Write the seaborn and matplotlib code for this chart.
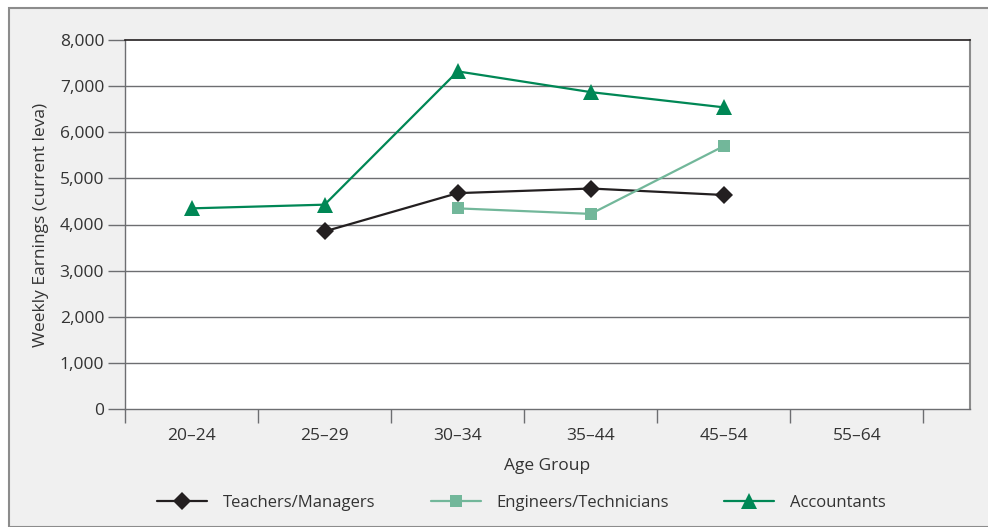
import matplotlib
matplotlib.use("Agg")
import matplotlib.pyplot as plt
import seaborn as sns
import pandas as pd
import numpy as np
from matplotlib.patches import Rectangle

categories = ["20–24", "25–29", "30–34", "35–44", "45–54", "55–64"]
teachers = [np.nan, 3850, 4680, 4780, 4640, np.nan]
engineers = [np.nan, np.nan, 4350, 4230, 5700, np.nan]
accountants = [4350, 4430, 7320, 6870, 6540, np.nan]
series_names = ["Teachers/Managers", "Engineers/Technicians", "Accountants"]
yticks = [0, 1000, 2000, 3000, 4000, 5000, 6000, 7000, 8000]

rows = []
for name, vals in zip(series_names, [teachers, engineers, accountants]):
    for i, v in enumerate(vals):
        rows.append({"pos": i, "value": v, "series": name})
df = pd.DataFrame(rows).dropna()

sns.set_theme(style="white")
plt.rcParams["font.family"] = ["Open Sans", "DejaVu Sans"]

FS = 12.5
fig = plt.figure(figsize=(9.88, 5.27), dpi=100)
fig.patch.set_facecolor("white")
bg = Rectangle((9 / 988, 0), 1, 1 - 8 / 527, transform=fig.transFigure,
               facecolor="#f0f0f0", edgecolor="#8c8c8c", linewidth=1.5, zorder=-10)
fig.patches.append(bg)

ax = fig.add_axes([125 / 988, 1 - 409 / 527, (970 - 125) / 988, (409 - 40) / 527])
ax.set_facecolor("white")

palette = {"Teachers/Managers": "#231f20", "Engineers/Technicians": "#72b79a",
           "Accountants": "#008755"}
markers = {"Teachers/Managers": "D", "Engineers/Technicians": "s", "Accountants": "^"}
sizes = {"Teachers/Managers": 9, "Engineers/Technicians": 8.5, "Accountants": 11.5}

for name in series_names:
    sub = df[df["series"] == name]
    sns.lineplot(data=sub, x="pos", y="value", ax=ax, color=palette[name],
                 marker=markers[name], markersize=sizes[name], markeredgewidth=0,
                 linewidth=1.6, label=name, zorder=5)

ax.set_xlim(-0.5, 5.85)
ax.set_ylim(0, 8000)
ax.set_yticks(yticks)
ax.set_yticklabels([f"{t:,}" for t in yticks])
ax.set_xticks(np.arange(len(categories)))
ax.set_xticklabels(categories)
ax.set_xticks(np.arange(len(categories) + 1) - 0.5, minor=True)
ax.tick_params(axis="x", which="major", bottom=True, length=0, pad=14, labelsize=FS,
               labelcolor="#333333")
ax.tick_params(axis="x", which="minor", bottom=True, length=10, width=1, color="#6d6e71",
               direction="out")
ax.tick_params(axis="y", which="major", left=True, length=12, width=1, color="#6d6e71",
               direction="out", pad=3, labelsize=FS, labelcolor="#333333")

for y in yticks[1:-1]:
    ax.axhline(y, color="#6d6e71", linewidth=1, zorder=1)
ax.spines["top"].set_color("#231f20")
ax.spines["top"].set_linewidth(1.2)
ax.spines["left"].set_color("#6d6e71")
ax.spines["bottom"].set_color("#6d6e71")
ax.spines["right"].set_color("#8c8c8c")
ax.spines["right"].set_linewidth(1.5)
for s in ["left", "bottom"]:
    ax.spines[s].set_linewidth(1)

ax.set_xlabel("Age Group", fontsize=FS, color="#333333", labelpad=10)
ax.set_ylabel("Weekly Earnings (current leva)", fontsize=FS, color="#333333", labelpad=8)

leg = ax.legend(loc="upper center", bbox_to_anchor=(0.469, -0.192), ncol=3, frameon=False,
                fontsize=12, handlelength=3.0, columnspacing=3.3, handletextpad=0.95)
for t in leg.get_texts():
    t.set_color("#333333")

fig.savefig("out.png", dpi=100, facecolor=fig.get_facecolor())
